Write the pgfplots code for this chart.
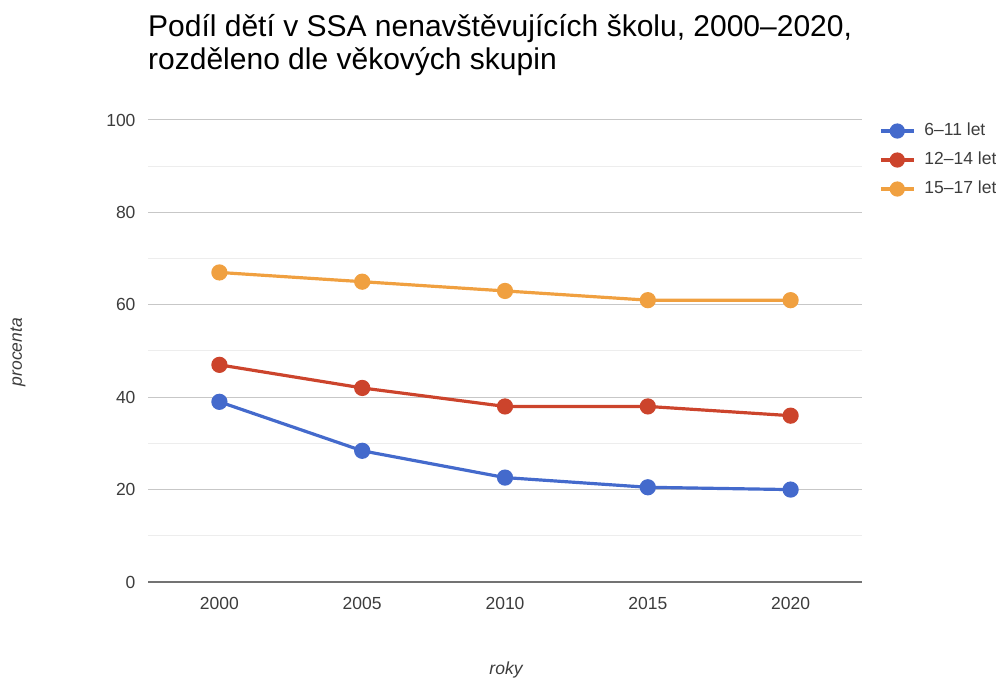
\documentclass[border=0pt]{standalone}
\usepackage{pgfplots}
\pgfplotsset{compat=1.18}
\usepackage{fontspec}
\setmainfont{Liberation Sans}
\definecolor{cblue}{RGB}{68,106,204}
\definecolor{cred}{RGB}{204,68,44}
\definecolor{corange}{RGB}{240,160,64}
\definecolor{ctext}{RGB}{60,60,60}
\begin{document}
\begin{tikzpicture}[x=1bp,y=1bp]
\useasboundingbox (0,0) rectangle (996,680);
\begin{axis}[
  at={(148bp,98bp)}, anchor=south west,
  width=714bp, height=462bp, scale only axis,
  xmin=1997.5, xmax=2022.5, ymin=0, ymax=100,
  xtick={2000,2005,2010,2015,2020},
  ytick={0,20,40,60,80,100},
  minor ytick={10,30,50,70,90},
  ymajorgrids, yminorgrids,
  major grid style={color=black!22, line width=1pt},
  minor grid style={color=black!7, line width=1pt},
  axis x line*=bottom, axis y line*=left,
  y axis line style={draw=none},
  x axis line style={color=black!55, line width=1.3pt, -},
  major tick length=0pt, minor tick length=0pt,
  tick label style={font=\fontsize{17.5bp}{21bp}\selectfont, color=ctext},
  /pgf/number format/assume math mode=true,
  xticklabel={\pgfmathprintnumber[1000 sep=]{\tick}},
  yticklabel style={xshift=-9bp},
  xticklabel style={yshift=-12bp},
  legend style={draw=none, fill=none, at={(1.0238,0.996)}, anchor=north west,
    font=\fontsize{17.5bp}{21bp}\selectfont, text=ctext,
    row sep=11bp, inner sep=0pt,
    nodes={inner sep=1bp, text height=12.5bp, text depth=3.5bp}},
  legend cell align=left,
  legend image code/.code={
    \draw[#1, line width=3.2pt] (0bp,0bp) -- (33bp,0bp);
    \fill[#1] (16.5bp,0bp) circle (6bp);
    \path (41bp,0bp);
  },
  every axis plot/.append style={line width=3.2pt, mark=*, mark size=6.5bp},
]
\addplot[color=cblue, mark options={fill=cblue, draw=none}] coordinates {(2000,39) (2005,28.4) (2010,22.6) (2015,20.5) (2020,20)};
\addlegendentry{6–11 let}
\addplot[color=cred, mark options={fill=cred, draw=none}] coordinates {(2000,47) (2005,42) (2010,38) (2015,38) (2020,36)};
\addlegendentry{12–14 let}
\addplot[color=corange, mark options={fill=corange, draw=none}] coordinates {(2000,67) (2005,65) (2010,63) (2015,61) (2020,61)};
\addlegendentry{15–17 let}
\end{axis}
\node[anchor=base west, inner sep=0pt, font=\fontsize{30bp}{33bp}\selectfont] at (148,643) {Podíl dětí v SSA nenavštěvujících školu, 2000–2020,};
\node[anchor=base west, inner sep=0pt, font=\fontsize{30bp}{33bp}\selectfont] at (148,610) {rozděleno dle věkových skupin};
\node[rotate=90, font=\itshape\fontsize{17.5bp}{21bp}\selectfont, color=ctext] at (18,328) {procenta};
\node[font=\itshape\fontsize{17.5bp}{21bp}\selectfont, color=ctext] at (506,10) {roky};
\end{tikzpicture}
\end{document}
